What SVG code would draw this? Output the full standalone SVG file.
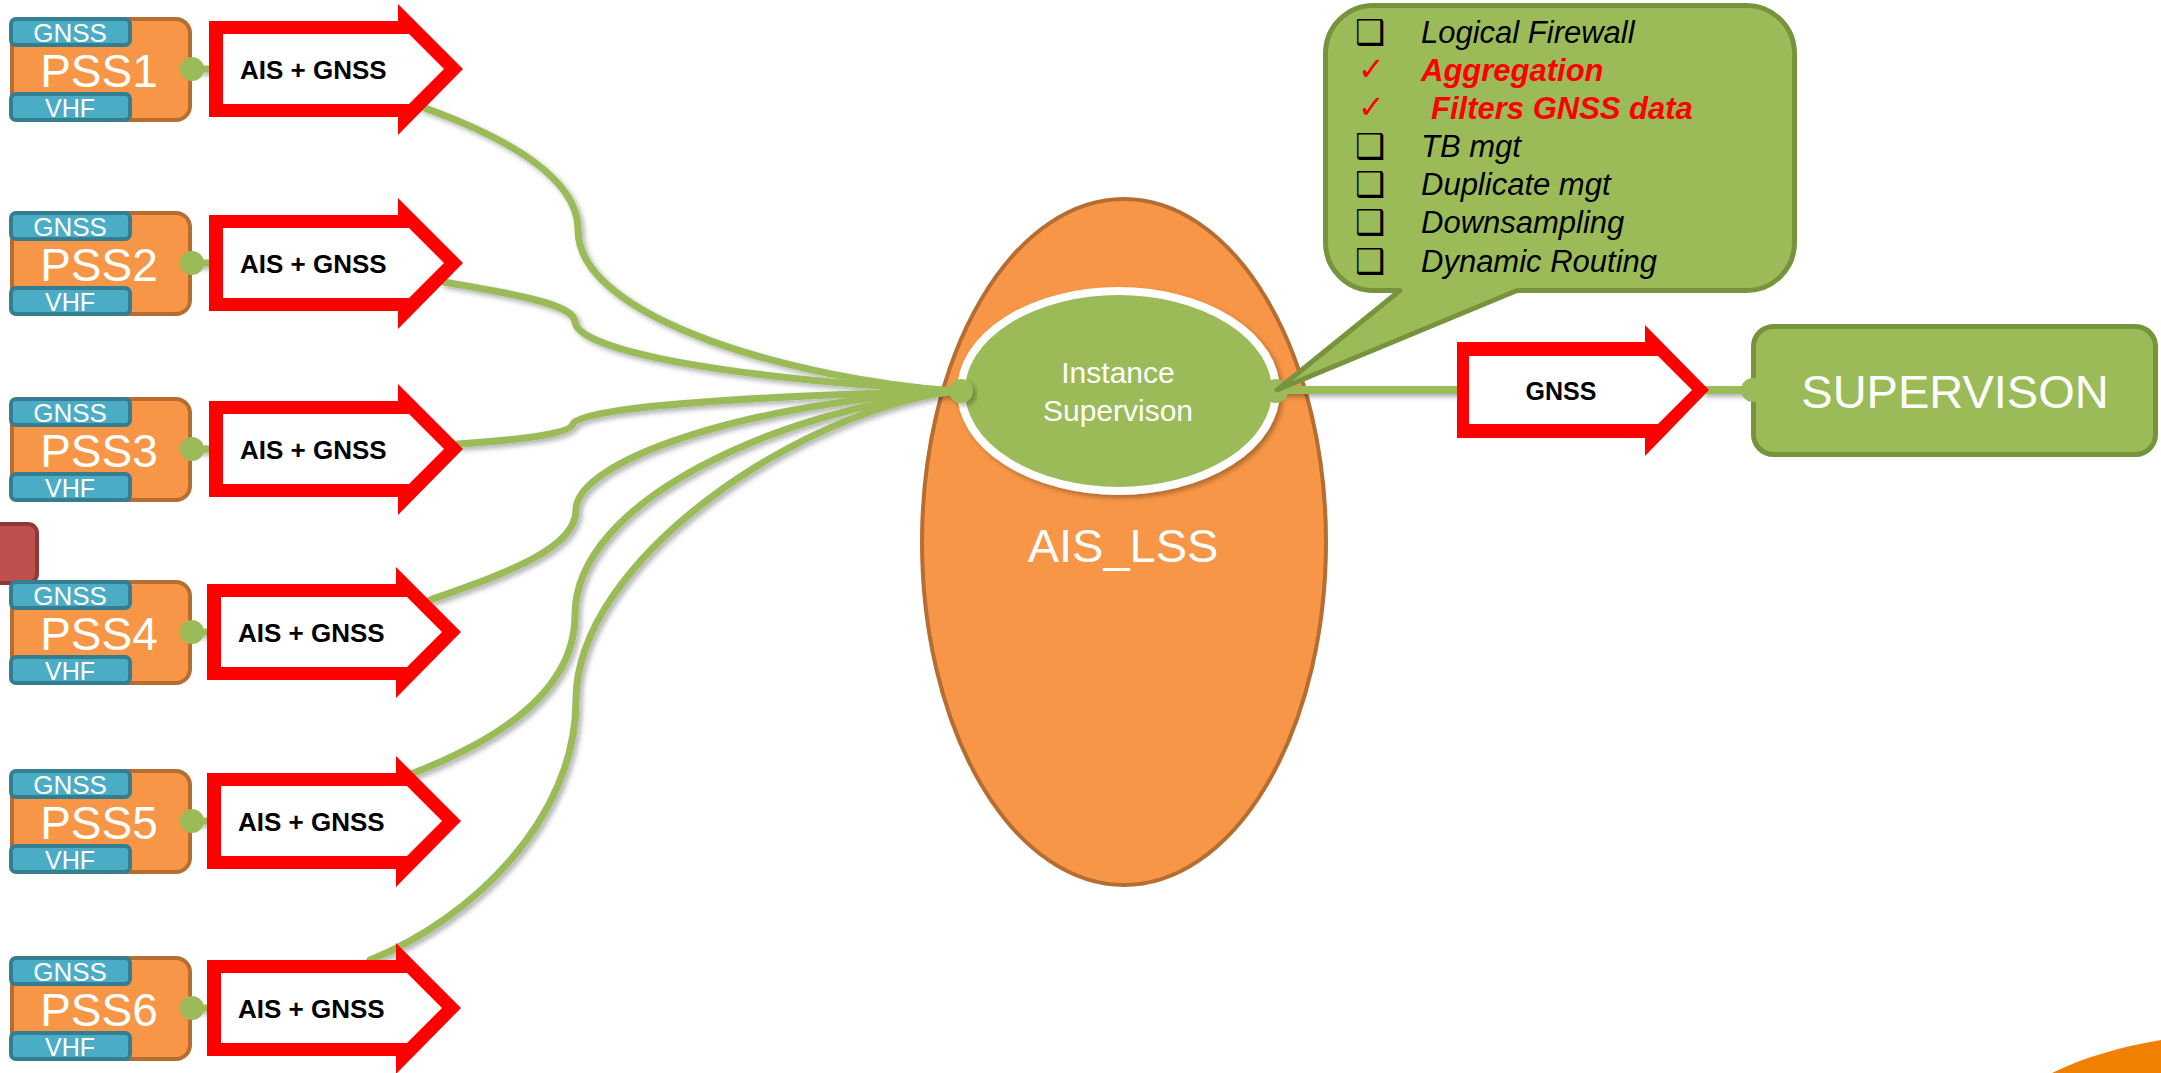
<svg xmlns="http://www.w3.org/2000/svg" xmlns:xlink="http://www.w3.org/1999/xlink" width="2161" height="1073" viewBox="0 0 2161 1073">
<style>
.box{fill:#F79646;stroke:#B66D31;stroke-width:4}
.tag{fill:#4BACC6;stroke:#357D91;stroke-width:4}
.wt{fill:#FFFFFF;font-family:"Liberation Sans",Arial,sans-serif;text-anchor:middle}
.ar-out{fill:#FF0000}
.ar-in{fill:#FFFFFF}
.lbl{fill:#000000;font-family:"Liberation Sans",Arial,sans-serif;font-weight:bold;font-size:26px}
.dot{fill:#9BBB59}
.conn{fill:none;stroke:#9BBB59;stroke-width:7;stroke-linecap:round}
.li{font-family:"Liberation Sans",Arial,sans-serif;font-style:italic;font-size:31px;fill:#000000}
.lr{font-family:"Liberation Sans",Arial,sans-serif;font-style:italic;font-weight:bold;font-size:31px;fill:#FF0000}
.bul{font-family:"DejaVu Sans",sans-serif;font-weight:bold;font-size:34px;fill:#000000}
.chk{font-family:"DejaVu Sans",sans-serif;font-size:32px;fill:#FF0000}
</style>
<defs>
<filter id="sh" x="-10%" y="-10%" width="130%" height="130%">
<feDropShadow dx="3" dy="3" stdDeviation="2.5" flood-color="#000000" flood-opacity="0.3"/>
</filter>
<g id="arrowShape">
<polygon class="ar-out" points="209,-48 398,-48 398,-65 463,0 398,66 398,48 209,48"/>
<polygon class="ar-in" points="223,-35 409,-35 444,0 409,35 223,35"/>
</g>
<g id="pssShape">
<rect class="box" x="12" y="-50" width="178" height="101" rx="14"/>
<rect class="tag" x="11" y="-50" width="119" height="26" rx="5"/>
<rect class="tag" x="11" y="25" width="119" height="26" rx="5"/>
</g>
</defs>
<rect x="0" y="0" width="2161" height="1073" fill="#FFFFFF"/>

<path id="corner-shape" d="M 2052 1073 C 2085 1057, 2120 1047, 2161 1040 L 2161 1073 Z" fill="#F08000"/>

<g id="ais-lss">
<ellipse cx="1124" cy="542" rx="202" ry="343" fill="#F79646" stroke="#B66D31" stroke-width="4"/>
<text class="wt" x="1123" y="562" font-size="47">AIS_LSS</text>
</g>

<g id="red-box">
<rect x="-20" y="524" width="57" height="59" rx="9" fill="#C0504D" stroke="#8C3A38" stroke-width="4"/>
</g>

<g id="connectors">
<g filter="url(#sh)">
<path class="conn" d="M 422 107 C 500 135, 578 175, 578 230 C 578 320, 800 380, 955 391"/>
<path class="conn" d="M 444 282 C 520 295, 574 305, 575 322 C 577 345, 680 375, 955 391"/>
<path class="conn" d="M 458 444 C 520 440, 570 434, 573 424 C 576 412, 680 398, 955 391"/>
<path class="conn" d="M 430 600 C 500 575, 576 550, 576 510 C 576 460, 750 402, 955 391"/>
<path class="conn" d="M 411 774 C 500 740, 575 690, 575 615 C 575 500, 780 410, 955 391"/>
<path class="conn" d="M 370 960 C 470 920, 576 820, 576 700 C 576 560, 800 410, 955 391"/>
<line class="conn" x1="192" y1="69" x2="212" y2="69"/>
<line class="conn" x1="192" y1="263" x2="212" y2="263"/>
<line class="conn" x1="192" y1="449" x2="212" y2="449"/>
<line class="conn" x1="192" y1="632" x2="212" y2="632"/>
<line class="conn" x1="192" y1="821" x2="212" y2="821"/>
<line class="conn" x1="192" y1="1008" x2="212" y2="1008"/>
<line class="conn" x1="1276" y1="390" x2="1460" y2="390" style="stroke-width:8"/>
<line class="conn" x1="1705" y1="390" x2="1753" y2="390" style="stroke-width:8"/>
</g>
</g>

<g id="pss1" transform="translate(0,69)">
<use xlink:href="#pssShape"/>
<text class="wt" x="70" y="-27" font-size="26">GNSS</text>
<text class="wt" x="99" y="18" font-size="46">PSS1</text>
<text class="wt" x="70" y="48" font-size="25">VHF</text>
<circle class="dot" cx="192" cy="0" r="12"/>
</g>
<g id="pss2" transform="translate(0,263)">
<use xlink:href="#pssShape"/>
<text class="wt" x="70" y="-27" font-size="26">GNSS</text>
<text class="wt" x="99" y="18" font-size="46">PSS2</text>
<text class="wt" x="70" y="48" font-size="25">VHF</text>
<circle class="dot" cx="192" cy="0" r="12"/>
</g>
<g id="pss3" transform="translate(0,449)">
<use xlink:href="#pssShape"/>
<text class="wt" x="70" y="-27" font-size="26">GNSS</text>
<text class="wt" x="99" y="18" font-size="46">PSS3</text>
<text class="wt" x="70" y="48" font-size="25">VHF</text>
<circle class="dot" cx="192" cy="0" r="12"/>
</g>
<g id="pss4" transform="translate(0,632)">
<use xlink:href="#pssShape"/>
<text class="wt" x="70" y="-27" font-size="26">GNSS</text>
<text class="wt" x="99" y="18" font-size="46">PSS4</text>
<text class="wt" x="70" y="48" font-size="25">VHF</text>
<circle class="dot" cx="192" cy="0" r="12"/>
</g>
<g id="pss5" transform="translate(0,821)">
<use xlink:href="#pssShape"/>
<text class="wt" x="70" y="-27" font-size="26">GNSS</text>
<text class="wt" x="99" y="18" font-size="46">PSS5</text>
<text class="wt" x="70" y="48" font-size="25">VHF</text>
<circle class="dot" cx="192" cy="0" r="12"/>
</g>
<g id="pss6" transform="translate(0,1008)">
<use xlink:href="#pssShape"/>
<text class="wt" x="70" y="-27" font-size="26">GNSS</text>
<text class="wt" x="99" y="18" font-size="46">PSS6</text>
<text class="wt" x="70" y="48" font-size="25">VHF</text>
<circle class="dot" cx="192" cy="0" r="12"/>
</g>

<g id="arrow1" transform="translate(0,69)">
<use xlink:href="#arrowShape"/>
<text class="lbl" x="240" y="10">AIS + GNSS</text>
</g>
<g id="arrow2" transform="translate(0,263)">
<use xlink:href="#arrowShape"/>
<text class="lbl" x="240" y="10">AIS + GNSS</text>
</g>
<g id="arrow3" transform="translate(0,449)">
<use xlink:href="#arrowShape"/>
<text class="lbl" x="240" y="10">AIS + GNSS</text>
</g>
<g id="arrow4" transform="translate(-2,632)">
<use xlink:href="#arrowShape"/>
<text class="lbl" x="240" y="10">AIS + GNSS</text>
</g>
<g id="arrow5" transform="translate(-2,821)">
<use xlink:href="#arrowShape"/>
<text class="lbl" x="240" y="10">AIS + GNSS</text>
</g>
<g id="arrow6" transform="translate(-2,1008)">
<use xlink:href="#arrowShape"/>
<text class="lbl" x="240" y="10">AIS + GNSS</text>
</g>

<g id="instance-supervison">
<ellipse cx="1118.5" cy="391" rx="157.5" ry="100" fill="#9BBB59" stroke="#FFFFFF" stroke-width="8" filter="url(#sh)"/>
<text class="wt" x="1118" y="383" font-size="30">Instance</text>
<text class="wt" x="1118" y="421" font-size="30">Supervison</text>
<circle class="dot" cx="961" cy="391" r="12" filter="url(#sh)"/>
<circle class="dot" cx="1276" cy="391" r="12"/>
</g>

<g id="gnss-arrow">
<polygon class="ar-out" points="1457,342 1645,342 1645,325 1709,390 1645,456 1645,438 1457,438"/>
<polygon class="ar-in" points="1469,356 1658,356 1692,390 1658,424 1469,424"/>
<text class="lbl" x="1561" y="400" text-anchor="middle" style="font-size:25px">GNSS</text>
</g>

<g id="supervison">
<rect x="1753.5" y="326.5" width="402" height="128" rx="20" fill="#9BBB59" stroke="#77933C" stroke-width="5"/>
<text class="wt" x="1955" y="408" font-size="47">SUPERVISON</text>
<circle class="dot" cx="1753" cy="390" r="12"/>
</g>

<g id="callout">
<path d="M 1373.5 5.5 H 1746.5 A 48 48 0 0 1 1794.5 53.5 V 242.5 A 48 48 0 0 1 1746.5 290.5 H 1517 L 1277 390 L 1400 290.5 H 1373.5 A 48 48 0 0 1 1325.5 242.5 V 53.5 A 48 48 0 0 1 1373.5 5.5 Z" fill="#9BBB59" stroke="#77933C" stroke-width="5" stroke-linejoin="round"/>
<text class="bul" x="1355" y="44">❑</text>
<text class="li" x="1421" y="43">Logical Firewall</text>
<text class="chk" x="1358" y="80">✓</text>
<text class="lr" x="1421" y="81">Aggregation</text>
<text class="chk" x="1358" y="118">✓</text>
<text class="lr" x="1431" y="119">Filters GNSS data</text>
<text class="bul" x="1355" y="158">❑</text>
<text class="li" x="1421" y="157">TB mgt</text>
<text class="bul" x="1355" y="196">❑</text>
<text class="li" x="1421" y="195">Duplicate mgt</text>
<text class="bul" x="1355" y="234">❑</text>
<text class="li" x="1421" y="233">Downsampling</text>
<text class="bul" x="1355" y="273">❑</text>
<text class="li" x="1421" y="272">Dynamic Routing</text>
</g>
</svg>
